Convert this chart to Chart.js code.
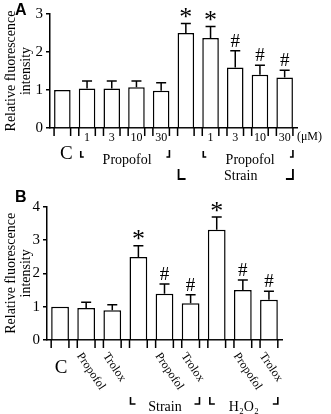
<!DOCTYPE html>
<html><head><meta charset="utf-8">
<script src="https://cdn.jsdelivr.net/npm/chart.js@4/dist/chart.umd.min.js"></script>
<style>
html,body{margin:0;padding:0;background:#fff;overflow:hidden;}
#wrapA{position:absolute;left:0;top:0;width:331px;height:188px;}
#wrapB{position:absolute;left:0;top:188px;width:331px;height:226px;}
</style></head><body>
<div id="wrapA"><canvas id="cA"></canvas></div>
<div id="wrapB"><canvas id="cB"></canvas></div>
<script>
// ---------- data ----------
const tickLabelsA = ["", "1", "3", "10", "30", "", "1", "3", "10", "30"];
const valuesA = [1.00, 1.04, 1.04, 1.07, 0.98, 2.50, 2.37, 1.59, 1.40, 1.33];
const errorsA = [0, 0.20, 0.20, 0.17, 0.21, 0.25, 0.30, 0.44, 0.25, 0.19];
const marksA = ["", "", "", "", "", "*", "*", "#", "#", "#"];
const yTicksA = [0, 1, 2, 3];

const tickLabelsB = ["", "Propofol", "Trolox", "", "Propofol", "Trolox", "", "Propofol", "Trolox"];
const valuesB = [1.00, 0.96, 0.89, 2.49, 1.39, 1.10, 3.31, 1.50, 1.21];
const errorsB = [0, 0.17, 0.17, 0.34, 0.29, 0.26, 0.38, 0.30, 0.25];
const marksB = ["", "", "", "*", "#", "#", "*", "#", "#"];
const yTicksB = [0, 1, 2, 3, 4];

const yTitle = ["Relative fluorescence", "intensity"];
const controlLabel = "C";
const unitLabel = "(μM)";
const groupLabelsA = ["Propofol", "Propofol", "Strain"];
const groupLabelsB = ["Strain", "H₂O₂"];
const panelLabels = ["A", "B"];

// ---------- helpers ----------
const SERIF = "'Liberation Serif','Times New Roman',serif";
const SANS = "'Liberation Sans',Arial,sans-serif";

function bracket(ctx, x, y1, y2, w) {
  ctx.beginPath();
  ctx.moveTo(x, y1); ctx.lineTo(x, y2); ctx.lineTo(x + w, y2);
  ctx.stroke();
}

function drawBarsExtras(chart, errors, marks) {
  const ctx = chart.ctx;
  const meta = chart.getDatasetMeta(0);
  const ys = chart.scales.y;
  const bottom = chart.chartArea.bottom;
  const vals = chart.data.datasets[0].data;
  ctx.save();
  ctx.strokeStyle = '#000';
  ctx.fillStyle = '#000';
  ctx.lineWidth = 1.5;
  meta.data.forEach((el, i) => {
    const p = el.getProps(['x', 'y', 'width'], true);
    ctx.beginPath();
    ctx.moveTo(p.x - p.width / 2, bottom); ctx.lineTo(p.x - p.width / 2, bottom + 8);
    ctx.moveTo(p.x + p.width / 2, bottom); ctx.lineTo(p.x + p.width / 2, bottom + 8);
    ctx.stroke();
    let top = p.y;
    if (errors[i] > 0) {
      top = ys.getPixelForValue(vals[i] + errors[i]);
      ctx.beginPath();
      ctx.moveTo(p.x, p.y); ctx.lineTo(p.x, top);
      ctx.moveTo(p.x - 5, top); ctx.lineTo(p.x + 5, top);
      ctx.stroke();
    }
    const m = marks[i];
    if (m === '*') {
      ctx.font = '26px ' + SERIF;
      ctx.textAlign = 'center'; ctx.textBaseline = 'alphabetic';
      ctx.fillText('*', p.x, top + 1.5);
    } else if (m === '#') {
      ctx.font = '19px ' + SERIF;
      ctx.textAlign = 'center'; ctx.textBaseline = 'alphabetic';
      ctx.fillText('#', p.x, top - 4);
    }
  });
  ctx.restore();
}

function baseOptions(yMax, yTicks, yWidth, xHeight, pad, showXTicks) {
  return {
    responsive: true, maintainAspectRatio: false, animation: false, devicePixelRatio: 1,
    layout: { autoPadding: false, padding: pad },
    plugins: { legend: { display: false }, tooltip: { enabled: false } },
    scales: {
      x: {
        type: 'category',
        grid: { display: false, drawTicks: false },
        border: { display: true, color: '#000', width: 1.5 },
        ticks: { display: showXTicks, color: '#000', font: { family: SERIF, size: 12 }, padding: 3, maxRotation: 0, minRotation: 0, autoSkip: false },
        afterFit: s => { s.height = xHeight; }
      },
      y: {
        min: 0, max: yMax,
        afterBuildTicks: s => { s.ticks = yTicks.map(v => ({ value: v })); },
        ticks: { color: '#000', font: { family: SERIF, size: 15 }, padding: 3 },
        grid: { display: true, drawOnChartArea: false, color: '#000', lineWidth: 1.5, tickLength: 4 },
        border: { display: true, color: '#000', width: 1.5 },
        title: { display: true, text: yTitle, color: '#000', font: { family: SERIF, size: 14, lineHeight: 1.05 }, padding: 0 },
        afterFit: s => { s.width = yWidth; }
      }
    }
  };
}

function dataset(values, bp) {
  return {
    data: values, backgroundColor: '#fff', borderColor: '#000', borderWidth: 1.5,
    barPercentage: bp, categoryPercentage: 1.0
  };
}

// ---------- chart A ----------
const pluginA = {
  id: 'extrasA',
  afterDatasetsDraw(chart) {
    drawBarsExtras(chart, errorsA, marksA);
    const ctx = chart.ctx;
    const d = chart.getDatasetMeta(0).data;
    const L = i => d[i].x - d[i].width / 2, R = i => d[i].x + d[i].width / 2;
    ctx.save();
    ctx.fillStyle = '#000'; ctx.strokeStyle = '#000'; ctx.lineWidth = 1.6;
    ctx.font = 'bold 16px ' + SANS; ctx.textAlign = 'left'; ctx.textBaseline = 'top';
    ctx.fillText(panelLabels[0], 15, 3);
    ctx.font = '12px ' + SERIF; ctx.textAlign = 'left'; ctx.textBaseline = 'middle';
    ctx.fillText(unitLabel, R(9) + 4, 137);
    ctx.font = '19px ' + SERIF; ctx.textAlign = 'center'; ctx.textBaseline = 'middle';
    ctx.fillText(controlLabel, d[0].x + 4, 154);
    ctx.font = '14px ' + SERIF;
    let a = L(1) + 2, b = R(4);
    bracket(ctx, a, 151, 157, 3); bracket(ctx, b, 150, 157, -3);
    ctx.fillText(groupLabelsA[0], (a + b) / 2 + 2, 160);
    a = L(6) + 1; b = R(9);
    bracket(ctx, a, 151, 157, 3); bracket(ctx, b, 150, 157, -3);
    ctx.fillText(groupLabelsA[1], (a + b) / 2 + 2, 160);
    a = L(5) + 1; b = R(9);
    ctx.lineWidth = 1.8;
    bracket(ctx, a, 169, 179, 7); bracket(ctx, b, 169, 179, -7);
    ctx.fillText(groupLabelsA[2], (a + b) / 2 + 5, 176);
    ctx.restore();
  }
};

new Chart(document.getElementById('cA'), {
  type: 'bar',
  data: { labels: tickLabelsA, datasets: [dataset(valuesA, 0.67)] },
  options: baseOptions(3, yTicksA, 46, 60, { left: 4, right: 34, top: 14, bottom: 0 }, true),
  plugins: [pluginA]
});

// ---------- chart B ----------
const pluginB = {
  id: 'extrasB',
  afterDatasetsDraw(chart) {
    drawBarsExtras(chart, errorsB, marksB);
    const ctx = chart.ctx;
    const d = chart.getDatasetMeta(0).data;
    const L = i => d[i].x - d[i].width / 2, R = i => d[i].x + d[i].width / 2;
    ctx.save();
    ctx.fillStyle = '#000'; ctx.strokeStyle = '#000'; ctx.lineWidth = 1.6;
    ctx.font = 'bold 16px ' + SANS; ctx.textAlign = 'left'; ctx.textBaseline = 'top';
    ctx.fillText(panelLabels[1], 15, 2);
    ctx.font = '12px ' + SERIF; ctx.textAlign = 'left'; ctx.textBaseline = 'middle';
    chart.data.labels.forEach((lab, i) => {
      if (!lab) return;
      ctx.save();
      ctx.translate(d[i].x - 7, 166);
      ctx.rotate(56 * Math.PI / 180);
      ctx.fillText(lab, 0, 0);
      ctx.restore();
    });
    ctx.font = '19px ' + SERIF; ctx.textAlign = 'center'; ctx.textBaseline = 'middle';
    ctx.fillText(controlLabel, d[0].x + 1, 180);
    ctx.font = '14px ' + SERIF;
    let a = L(3) + 1, b = R(5);
    bracket(ctx, a, 209, 216, 5); bracket(ctx, b, 209, 216, -5);
    ctx.fillText(groupLabelsB[0], (a + b) / 2, 219);
    a = L(6) + 2; b = R(8);
    bracket(ctx, a, 209, 216, 5); bracket(ctx, b, 209, 216, -5);
    ctx.fillText(groupLabelsB[1], (a + b) / 2, 219);
    ctx.restore();
  }
};

new Chart(document.getElementById('cB'), {
  type: 'bar',
  data: { labels: tickLabelsB, datasets: [dataset(valuesB, 0.68)] },
  options: baseOptions(4, yTicksB, 43, 74, { left: 4, right: 49, top: 18.7, bottom: 0 }, false),
  plugins: [pluginB]
});
</script>
</body></html>
